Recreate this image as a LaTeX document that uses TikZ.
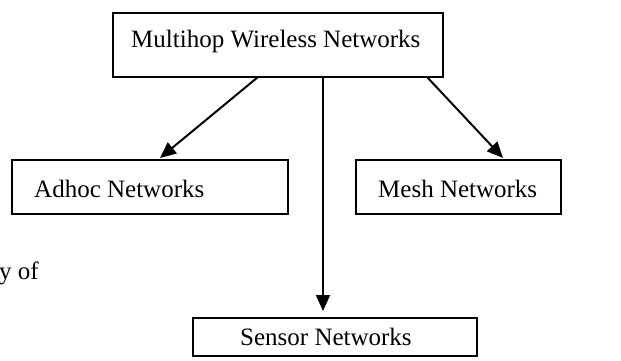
\documentclass[tikz,border=0pt]{standalone}
\usepackage{fontspec}
\setmainfont{Liberation Serif}
\usetikzlibrary{arrows.meta}
\begin{document}
\begin{tikzpicture}[x=1pt,y=-1pt,
  box/.style={draw,line width=1.8pt},
  lbl/.style={anchor=base west,inner sep=0pt,font=\fontsize{25}{30}\selectfont},
  link/.style={line width=2pt,-{Triangle[length=16pt,width=14pt]}}]
\useasboundingbox (0,0) rectangle (621,361);

% boxes
\draw[box] (113,13) rectangle (443,77);
\draw[box] (12,160) rectangle (288,214);
\draw[box] (356,160) rectangle (561,214);
\draw[box] (193,318) rectangle (477,356);

% labels
\node[lbl] (top) at (131,48) {Multihop Wireless Networks};
\node[lbl] (adhoc) at (34,197) {Adhoc Networks};
\node[lbl] (mesh) at (378,197) {Mesh Networks};
\node[lbl] (sensor) at (240,345) {Sensor Networks};
\node[lbl] (cut) at (-1,279) {y of};

% connectors
\coordinate (sL) at (258,77);
\coordinate (sM) at (323,77);
\coordinate (sR) at (427,77);
\coordinate (eL) at (160,158);
\coordinate (eM) at (323,311);
\coordinate (eR) at (503,158);
\draw[link] (sL) -- (eL);
\draw[link] (sM) -- (eM);
\draw[link] (sR) -- (eR);
\end{tikzpicture}
\end{document}
